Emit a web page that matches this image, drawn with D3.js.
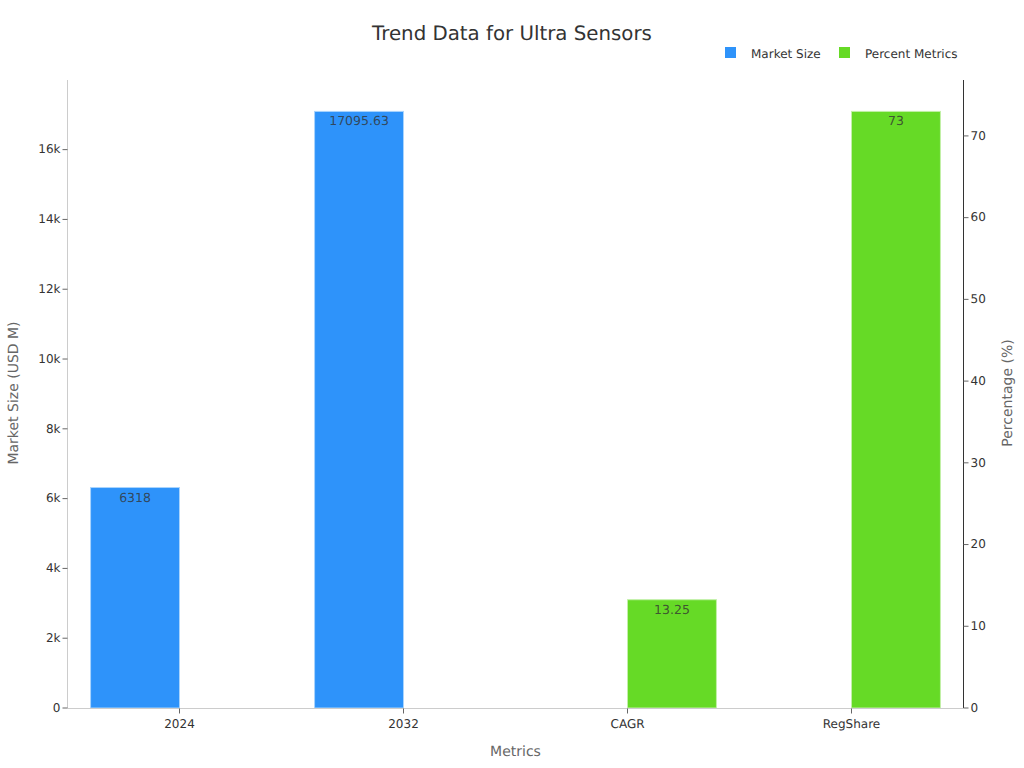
<!DOCTYPE html>
<html>
<head>
<meta charset="utf-8">
<script src="https://cdn.jsdelivr.net/npm/d3@7"></script>
<style>
  html, body { margin: 0; padding: 0; background: #fff; }
  svg { display: block; font-family: "DejaVu Sans", sans-serif; text-rendering: geometricPrecision; }
</style>
</head>
<body>
<svg id="chart" width="1024" height="768"></svg>
<script>
var categories = ['2024', '2032', 'CAGR', 'RegShare']
var seriesNames = ['Market Size', 'Percent Metrics']
var marketSize = [6318, 17095.63, 0, 0]
var percentMetrics = [0, 0, 13.25, 73]
var leftTicks = [0, 2000, 4000, 6000, 8000, 10000, 12000, 14000, 16000]
var rightTicks = [0, 10, 20, 30, 40, 50, 60, 70]
var colors = ['#2e93fa', '#66da26']
var strokes = ['#a9d4fd', '#c2f0a8']

var svg = d3.select('#chart')
var margin = { left: 67.5, right: 963.5, top: 80, bottom: 708.5 }

var x = d3.scaleBand().domain(categories).range([margin.left, margin.right])
var barW = x.bandwidth() * 0.397
var yLeft = d3.scaleLinear().domain([0, d3.max(marketSize) / 0.95]).range([margin.bottom - 0.5, margin.top])
var yRight = d3.scaleLinear().domain([0, d3.max(percentMetrics) / 0.95]).range([margin.bottom - 0.5, margin.top])

function center(c) { return x(c) + x.bandwidth() / 2 }

// bars
function drawBars(values, yScale, idx) {
  var g = svg.append('g')
  var rows = categories.map(function (c, i) { return { c: c, v: values[i] } }).filter(function (d) { return d.v > 0 })
  g.selectAll('rect')
      .data(rows)
      .enter()
    .append('rect')
      .attr('x', function (d) { return center(d.c) - (idx === 0 ? barW : 0) })
      .attr('y', function (d) { return yScale(d.v) })
      .attr('width', barW)
      .attr('height', function (d) { return yScale(0) - yScale(d.v) })
      .attr('fill', colors[idx])
      .attr('stroke', strokes[idx])
      .attr('stroke-width', 1)
  g.selectAll('text')
      .data(rows)
      .enter()
    .append('text')
      .attr('x', function (d) { return center(d.c) + (idx === 0 ? -barW / 2 : barW / 2) })
      .attr('y', function (d) { return yScale(d.v) + 14 })
      .attr('text-anchor', 'middle')
      .attr('font-size', 12.5)
      .attr('fill', '#333')
      .attr('fill-opacity', 0.8)
      .text(function (d) { return d.v })
}
drawBars(marketSize, yLeft, 0)
drawBars(percentMetrics, yRight, 1)

// axes
var xAxis = svg.append('g')
    .attr('transform', 'translate(0,' + margin.bottom + ')')
    .call(d3.axisBottom(x).offset(0).tickSizeInner(5).tickSizeOuter(0).tickPadding(6))
xAxis.select('.domain').attr('stroke', '#ccc').attr('stroke-width', 1)
xAxis.selectAll('.tick line').attr('stroke', '#666')

var leftAxis = svg.append('g')
    .attr('transform', 'translate(' + margin.left + ',0)')
    .call(d3.axisLeft(yLeft).offset(0).tickValues(leftTicks).tickSizeInner(5).tickSizeOuter(0).tickPadding(2)
      .tickFormat(function (d) { return d === 0 ? '0' : (d / 1000) + 'k' }))
leftAxis.select('.domain').attr('stroke', '#ccc').attr('stroke-width', 1)
leftAxis.selectAll('.tick line').attr('stroke', '#666')

var rightAxis = svg.append('g')
    .attr('transform', 'translate(' + margin.right + ',0)')
    .call(d3.axisRight(yRight).offset(0).tickValues(rightTicks).tickSizeInner(5).tickSizeOuter(0).tickPadding(2))
rightAxis.select('.domain').attr('stroke', '#333').attr('stroke-width', 1)
rightAxis.selectAll('.tick line').attr('stroke', '#666')

svg.selectAll('.tick text')
    .attr('font-family', '"DejaVu Sans", sans-serif')
    .attr('font-size', 12)
    .attr('fill', '#333')

// titles
svg.append('text')
    .attr('x', 512).attr('y', 40)
    .attr('text-anchor', 'middle')
    .attr('font-size', 19.8)
    .attr('fill', '#333')
    .text('Trend Data for Ultra Sensors')

svg.append('text')
    .attr('x', 515.5).attr('y', 756)
    .attr('text-anchor', 'middle')
    .attr('font-size', 14)
    .attr('fill', '#666')
    .text('Metrics')

svg.append('text')
    .attr('transform', 'translate(18,393) rotate(-90)')
    .attr('text-anchor', 'middle')
    .attr('font-size', 14)
    .attr('fill', '#666')
    .text('Market Size (USD M)')

svg.append('text')
    .attr('transform', 'translate(1012,393) rotate(-90)')
    .attr('text-anchor', 'middle')
    .attr('font-size', 14)
    .attr('fill', '#666')
    .text('Percentage (%)')

// legend
var legendX = [725, 839]
var legend = svg.selectAll('.legend')
    .data(seriesNames)
    .enter()
  .append('g')
    .attr('class', 'legend')
    .attr('transform', function (d, i) { return 'translate(' + legendX[i] + ',47)' })
legend.append('rect')
    .attr('width', 11).attr('height', 11)
    .attr('fill', function (d, i) { return colors[i] })
legend.append('text')
    .attr('x', 26).attr('y', 11)
    .attr('font-size', 12)
    .attr('fill', '#333')
    .text(function (d) { return d })
</script>
</body>
</html>
